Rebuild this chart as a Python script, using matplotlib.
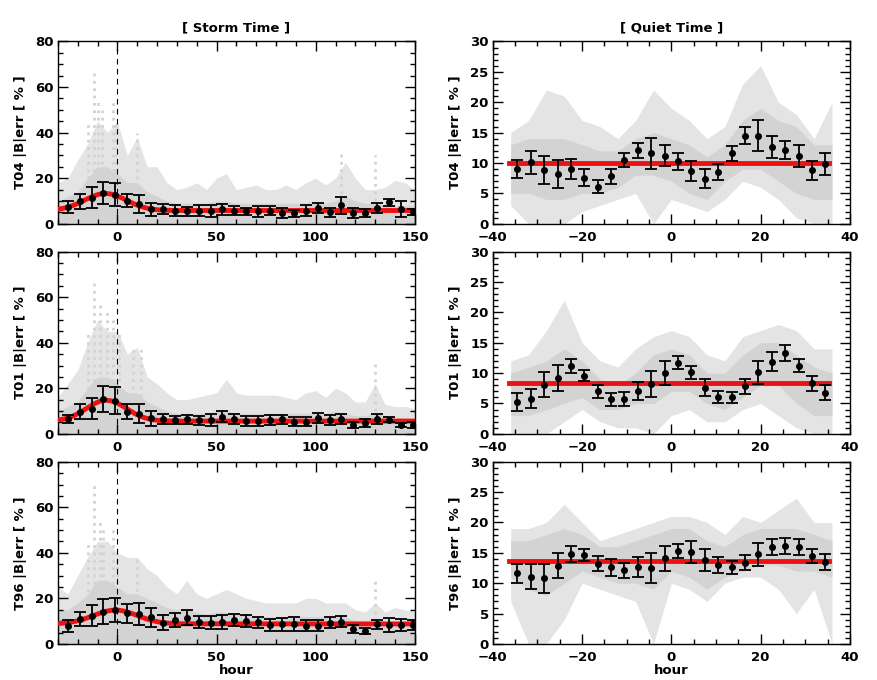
import numpy as np
import matplotlib.pyplot as plt
from matplotlib.ticker import MultipleLocator

plt.rcParams['font.family'] = ['DejaVu Sans']
plt.rcParams['font.weight'] = 'bold'

# ---------------- storm time (left column) ----------------
storm_x = [-25, -19, -13, -7, -1, 5, 11, 17, 23, 29, 35, 41, 47, 53, 59,
           65, 71, 77, 83, 89, 95, 101, 107, 113, 119, 125, 131, 137, 143, 149]

t04_storm = [7.3, 9.8, 11.3, 13.5, 12.7, 10.1, 8.8, 6.4, 6.4, 5.8, 5.4, 5.8, 5.6, 6.3, 5.8,
             5.4, 5.4, 5.8, 4.7, 4.5, 5.7, 6.9, 5.1, 8.0, 4.7, 4.8, 6.7, 9.4, 6.4, 5.1]
t04_storm_err = [2.5, 3.2, 4.6, 5.0, 5.0, 2.9, 3.9, 2.9, 2.3, 2.3, 1.8, 2.2, 2.5, 2.3, 1.8,
                 1.6, 2.3, 2.0, 2.2, 1.6, 2.4, 2.3, 2.0, 3.7, 2.4, 1.8, 2.2, 1.5, 3.4, 1.2]

t01_storm = [6.4, 9.8, 11.0, 15.2, 14.6, 9.8, 8.8, 6.9, 6.4, 6.1, 6.4, 6.0, 6.0, 7.6, 6.4,
             5.7, 5.7, 6.1, 6.4, 5.4, 5.4, 6.9, 6.1, 6.6, 3.9, 4.7, 6.6, 6.1, 3.9, 3.9]
t01_storm_err = [1.7, 3.3, 4.6, 5.8, 5.8, 3.4, 4.1, 3.3, 2.2, 1.8, 2.0, 2.0, 2.5, 2.4, 2.1,
                 2.2, 2.3, 2.1, 2.0, 1.8, 1.8, 2.2, 2.0, 2.2, 1.4, 1.8, 2.3, 1.1, 0.8, 1.3]

t96_storm = [7.9, 10.8, 12.4, 14.2, 14.9, 13.5, 13.2, 11.7, 9.4, 10.5, 11.5, 9.5, 9.4, 9.5, 10.5,
             10.1, 9.5, 8.3, 8.6, 8.8, 8.0, 8.0, 9.4, 9.8, 6.6, 5.8, 8.6, 8.3, 8.3, 8.3]
t96_storm_err = [2.6, 3.1, 4.7, 5.5, 5.1, 4.1, 4.8, 4.2, 3.4, 2.9, 3.3, 2.6, 2.7, 3.0, 2.6,
                 2.7, 2.4, 2.7, 2.7, 2.9, 2.4, 2.4, 2.4, 2.3, 1.6, 1.3, 2.1, 2.9, 2.5, 2.3]

# fitted curves
fit_x = [-30, -27, -24, -21, -18, -15, -12, -9, -6, -3, 0, 3, 6, 9, 12, 15, 18,
         21, 24, 27, 30, 33, 150]
t04_fit = [6.35, 6.81, 7.52, 8.50, 9.70, 11.0, 12.17, 13.0, 13.3, 13.0, 12.17, 11.0,
           9.70, 8.50, 7.52, 6.81, 6.35, 6.07, 5.93, 5.85, 5.81, 5.8, 5.8]
t01_fit = [6.06, 6.51, 7.26, 8.37, 9.82, 11.47, 13.05, 14.26, 14.8, 14.5, 13.5, 12.0,
           10.35, 8.81, 7.59, 6.72, 6.18, 5.88, 5.72, 5.65, 5.62, 5.6, 5.6]
t96_fit = [8.99, 9.17, 9.48, 9.97, 10.65, 11.51, 12.5, 13.48, 14.3, 14.8, 14.88, 14.5,
           13.78, 12.84, 11.84, 10.92, 10.17, 9.62, 9.26, 9.04, 8.92, 8.85, 8.8]

# grey model traces: dense core and outer envelope
cloud_x = list(range(-30, 151, 5))
t04_core = [10, 12, 14, 20, 25, 25, 22, 18, 18, 14, 12, 10, 9, 9, 9, 9, 10, 10, 9,
            9, 9, 9, 9, 9, 9, 9, 10, 9, 10, 12, 10, 9, 9, 8, 8, 8, 8]
t04_top = [18, 20, 28, 35, 45, 40, 45, 30, 38, 25, 25, 18, 15, 16, 18, 15, 20, 22, 15,
           16, 17, 15, 15, 17, 15, 18, 20, 17, 20, 27, 20, 15, 15, 16, 19, 18, 15]
t01_core = [10, 12, 14, 20, 25, 25, 22, 18, 18, 14, 12, 10, 9, 9, 9, 9, 10, 10, 9,
            9, 9, 9, 9, 9, 9, 9, 9, 9, 10, 9, 8, 8, 9, 8, 7, 7, 7]
t01_top = [16, 22, 28, 40, 50, 45, 45, 35, 38, 25, 22, 18, 15, 15, 16, 17, 18, 24, 18,
           17, 17, 17, 17, 16, 15, 18, 19, 16, 20, 18, 14, 14, 22, 13, 12, 12, 11]
t96_core = [15, 15, 18, 22, 28, 28, 25, 22, 22, 20, 18, 16, 15, 15, 14, 13, 14, 14, 13,
            13, 12, 12, 12, 12, 12, 12, 12, 12, 12, 12, 10, 10, 10, 9, 10, 10, 10]
t96_top = [25, 22, 30, 38, 45, 45, 40, 38, 38, 33, 30, 25, 22, 28, 22, 20, 22, 24, 22,
           20, 19, 18, 18, 18, 18, 20, 20, 18, 18, 18, 15, 14, 18, 14, 16, 15, 14]

# isolated spikes (hour, height)
t04_spikes = [(-15, 45), (-12, 67), (-10, 55), (-8, 52), (-2, 53), (-1, 45), (10, 40), (113, 31), (130, 30)]
t01_spikes = [(-15, 45), (-12, 67), (-9, 58), (-5, 55), (-2, 52), (1, 45), (8, 39), (12, 38), (130, 31)]
t96_spikes = [(-15, 45), (-12, 71), (-9, 55), (-7, 52), (-2, 50), (0, 40), (10, 38), (130, 28)]

# ---------------- quiet time (right column) ----------------
quiet_x = [-34.5, -31.5, -28.5, -25.5, -22.5, -19.5, -16.5, -13.5, -10.5, -7.5, -4.5, -1.5,
           1.5, 4.5, 7.5, 10.5, 13.5, 16.5, 19.5, 22.5, 25.5, 28.5, 31.5, 34.5]

t04_quiet = [9.0, 10.1, 8.8, 8.2, 9.0, 7.6, 6.1, 7.8, 10.5, 12.1, 11.6, 11.2,
             10.3, 8.7, 7.4, 8.5, 11.6, 14.5, 14.5, 12.7, 12.1, 11.1, 8.8, 9.8]
t04_quiet_err = [1.5, 1.9, 2.3, 2.3, 1.7, 1.4, 1.1, 1.2, 1.2, 1.2, 2.55, 1.7,
                 1.4, 1.7, 1.6, 1.25, 1.2, 1.4, 2.5, 1.8, 1.5, 1.8, 1.6, 1.85]
t01_quiet = [5.3, 5.8, 8.1, 9.2, 11.2, 9.6, 7.0, 5.7, 5.7, 7.1, 8.2, 10.0,
             11.7, 10.1, 7.6, 6.1, 6.0, 7.8, 10.1, 11.9, 13.3, 11.2, 8.3, 6.8]
t01_quiet_err = [1.5, 1.6, 2.0, 2.15, 1.2, 0.95, 1.05, 1.1, 1.15, 1.45, 2.15, 2.0,
                 1.05, 1.1, 1.35, 1.0, 0.9, 1.2, 1.85, 1.5, 1.25, 1.05, 1.2, 1.2]
t96_quiet = [11.6, 11.1, 10.8, 12.9, 14.8, 14.6, 13.2, 12.6, 12.1, 12.7, 12.5, 14.1,
             15.3, 15.2, 13.8, 13.0, 12.6, 13.4, 14.8, 16.0, 16.1, 15.9, 14.5, 13.5]
t96_quiet_err = [1.55, 2.0, 2.4, 2.0, 1.25, 1.0, 1.25, 1.35, 1.25, 1.6, 2.45, 2.05,
                 1.2, 1.8, 1.8, 1.25, 1.05, 1.2, 1.9, 1.35, 1.35, 1.3, 1.1, 1.3]

t04_mean, t01_mean, t96_mean = 10.0, 8.45, 13.65
mean_range = [-36.3, 35.3]

qcloud_x = list(range(-36, 37, 4))
t04_q_lo = [3, 0, 0, 0, 2, 3, 4, 5, 0, 4, 3, 2, 4, 7, 6, 4, 1, 0, 0]
t04_q_clo = [5, 5, 4, 4, 5, 5, 6, 8, 8, 7, 5, 4, 7, 9, 9, 7, 5, 4, 4]
t04_q_chi = [13, 14, 14, 14, 13, 12, 12, 14, 15, 14, 13, 11, 13, 17, 19, 17, 16, 13, 13]
t04_q_hi = [15, 17, 22, 21, 17, 16, 14, 17, 22, 19, 17, 14, 16, 23, 26, 20, 18, 14, 20]
t01_q_lo = [0, 0, 0, 2, 4, 2, 1, 1, 0, 3, 4, 2, 2, 4, 5, 3, 1, 0, 0]
t01_q_clo = [3, 3, 4, 5, 6, 4, 4, 5, 5, 7, 7, 5, 4, 6, 8, 8, 5, 3, 3]
t01_q_chi = [10, 11, 12, 14, 12, 9, 8, 10, 13, 14, 13, 10, 10, 13, 15, 15, 13, 11, 10]
t01_q_hi = [12, 13, 17, 22, 15, 12, 11, 14, 16, 17, 16, 13, 12, 16, 17, 18, 17, 14, 14]
t96_q_lo = [7, 0, 0, 4, 10, 9, 8, 7, 0, 10, 9, 7, 10, 11, 11, 9, 5, 9, 0]
t96_q_clo = [11, 9, 8, 10, 12, 11, 10, 10, 9, 12, 11, 9, 11, 12, 13, 13, 12, 12, 11]
t96_q_chi = [17, 17, 18, 19, 18, 16, 16, 17, 18, 19, 19, 17, 16, 18, 19, 19, 19, 18, 17]
t96_q_hi = [19, 19, 20, 23, 20, 17, 18, 19, 20, 21, 21, 20, 18, 21, 20, 22, 24, 20, 20]

models = ['T04', 'T01', 'T96']
grey = '#d3d3d3'
grey_light = '#e4e4e4'

fig = plt.figure(figsize=(8.77, 6.8), dpi=100)
row_bottoms = [0.671, 0.362, 0.053]
h = 0.268

storm_sets = [(t04_storm, t04_storm_err, t04_fit, t04_core, t04_top, t04_spikes),
              (t01_storm, t01_storm_err, t01_fit, t01_core, t01_top, t01_spikes),
              (t96_storm, t96_storm_err, t96_fit, t96_core, t96_top, t96_spikes)]
quiet_sets = [(t04_quiet, t04_quiet_err, t04_mean, t04_q_lo, t04_q_clo, t04_q_chi, t04_q_hi),
              (t01_quiet, t01_quiet_err, t01_mean, t01_q_lo, t01_q_clo, t01_q_chi, t01_q_hi),
              (t96_quiet, t96_quiet_err, t96_mean, t96_q_lo, t96_q_clo, t96_q_chi, t96_q_hi)]


def style(ax, xmaj, xmin, ymaj, ymin):
    ax.xaxis.set_major_locator(MultipleLocator(xmaj))
    ax.xaxis.set_minor_locator(MultipleLocator(xmin))
    ax.yaxis.set_major_locator(MultipleLocator(ymaj))
    ax.yaxis.set_minor_locator(MultipleLocator(ymin))
    ax.tick_params(which='both', direction='in', top=True, right=True, labelsize=9.5)
    ax.tick_params(which='major', length=7, width=1)
    ax.tick_params(which='minor', length=3.5, width=1)
    ax.tick_params(axis='x', pad=5)
    ax.tick_params(axis='y', pad=3)
    for lab in ax.get_xticklabels() + ax.get_yticklabels():
        lab.set_fontweight('bold')
    for s in ax.spines.values():
        s.set_linewidth(1)


for i in range(3):
    # storm panel
    ax = fig.add_axes([0.066, row_bottoms[i], 0.407, h])
    vals, err, fit, core, top, spikes = storm_sets[i]
    ax.fill_between(cloud_x, 0, top, color=grey_light, lw=0, zorder=1)
    ax.fill_between(cloud_x, 0, core, color=grey, lw=0, zorder=1)
    for sx, sh in spikes:
        ax.vlines(sx, 10, sh, color=grey, lw=2, linestyles=':', zorder=1)
    ax.axvline(0, color='black', lw=0.8, ls=(0, (5, 4)), zorder=2)
    ax.plot(fit_x, fit, color='#ee1111', lw=3.5, zorder=3)
    ax.errorbar(storm_x, vals, yerr=err, fmt='o', color='black', ms=4,
                elinewidth=1.3, capsize=4, capthick=1.3, zorder=4)
    ax.set_xlim(-30, 150)
    ax.set_ylim(0, 80)
    style(ax, 50, 10, 20, 5)
    ax.set_ylabel(models[i] + ' |B|err [ % ]', fontsize=9.5, fontweight='bold', labelpad=6)
    if i == 0:
        ax.set_title('[ Storm Time ]', fontsize=9.5, fontweight='bold', pad=7)
    if i == 2:
        ax.set_xlabel('hour', fontsize=9.5, fontweight='bold', labelpad=0)

    # quiet panel
    ax = fig.add_axes([0.562, row_bottoms[i], 0.407, h])
    vals, err, mean, lo, clo, chi, hi = quiet_sets[i]
    ax.fill_between(qcloud_x, lo, hi, color=grey_light, lw=0, zorder=1)
    ax.fill_between(qcloud_x, clo, chi, color=grey, lw=0, zorder=1)
    ax.plot(mean_range, [mean, mean], color='#ee1111', lw=3.5, zorder=3)
    ax.errorbar(quiet_x, vals, yerr=err, fmt='o', color='black', ms=4,
                elinewidth=1.3, capsize=4, capthick=1.3, zorder=4)
    ax.set_xlim(-40, 40)
    ax.set_ylim(0, 30)
    style(ax, 20, 5, 5, 1)
    ax.set_ylabel(models[i] + ' |B|err [ % ]', fontsize=9.5, fontweight='bold', labelpad=6)
    if i == 0:
        ax.set_title('[ Quiet Time ]', fontsize=9.5, fontweight='bold', pad=7)
    if i == 2:
        ax.set_xlabel('hour', fontsize=9.5, fontweight='bold', labelpad=0)

fig.savefig('out.png', dpi=100)
